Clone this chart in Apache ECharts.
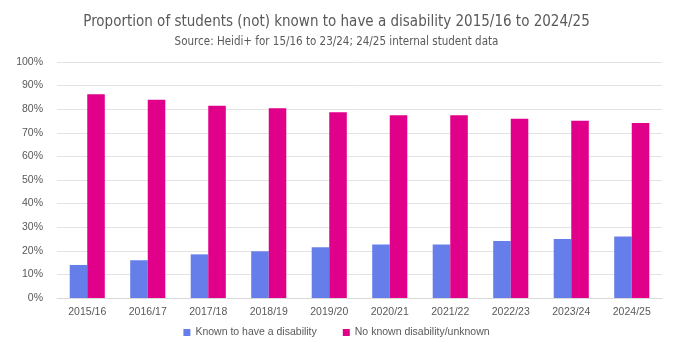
<!DOCTYPE html>
<html>
<head>
<meta charset="utf-8">
<script src="https://cdn.jsdelivr.net/npm/echarts@6/dist/echarts.min.js"></script>
<style>
    html, body { margin: 0; padding: 0; background: #fff; }
    #main { width: 673px; height: 345px; }
</style>
</head>
<body>
<div id="main"></div>
<script>
// academic years
var years = ['2015/16', '2016/17', '2017/18', '2018/19', '2019/20', '2020/21', '2021/22', '2022/23', '2023/24', '2024/25'];
// percentages
var knownDisability = [14, 16, 18.5, 19.8, 21.5, 22.7, 22.7, 24.1, 25, 26.1];
var noKnownDisability = [86.3, 84, 81.5, 80.4, 78.7, 77.4, 77.4, 76, 75.1, 74.1];

var myChart = echarts.init(document.getElementById('main'));
myChart.setOption({
    animation: false,
    title: {
        text: 'Proportion of students (not) known to have a disability 2015/16 to 2024/25',
        subtext: 'Source: Heidi+ for 15/16 to 23/24; 24/25 internal student data',
        left: 'center',
        top: 10,
        itemGap: 6,
        textStyle: { fontFamily: '"DejaVu Sans Condensed", Roboto, sans-serif', fontSize: 15, fontWeight: 'normal', color: '#595959' },
        subtextStyle: { fontFamily: '"DejaVu Sans Condensed", Roboto, sans-serif', fontSize: 11.5, color: '#595959' }
    },
    legend: {
        bottom: 2,
        itemWidth: 7,
        itemHeight: 7,
        itemGap: 26,
        icon: 'rect',
        textStyle: { fontFamily: 'Liberation Sans', fontSize: 10.5, color: '#595959' },
        data: ['Known to have a disability', 'No known disability/unknown']
    },
    grid: { left: 57, right: 11, top: 62, bottom: 47 },
    xAxis: {
        type: 'category',
        data: years,
        axisLine: { lineStyle: { color: '#d9d9d9' } },
        axisTick: { show: false },
        axisLabel: { fontFamily: 'Liberation Sans', fontSize: 10.5, color: '#595959', margin: 9 }
    },
    yAxis: {
        type: 'value',
        min: 0,
        max: 100,
        interval: 10,
        axisLabel: { formatter: '{value}%', fontFamily: 'Liberation Sans', fontSize: 10.5, color: '#595959', margin: 14 },
        splitLine: { lineStyle: { color: '#e3e3e3' } }
    },
    series: [
        {
            name: 'Known to have a disability',
            type: 'bar',
            data: knownDisability,
            barGap: '0%',
            barCategoryGap: '42%',
            itemStyle: { color: '#667eea' }
        },
        {
            name: 'No known disability/unknown',
            type: 'bar',
            data: noKnownDisability,
            itemStyle: { color: '#e0008a' }
        }
    ]
});
</script>
</body>
</html>
